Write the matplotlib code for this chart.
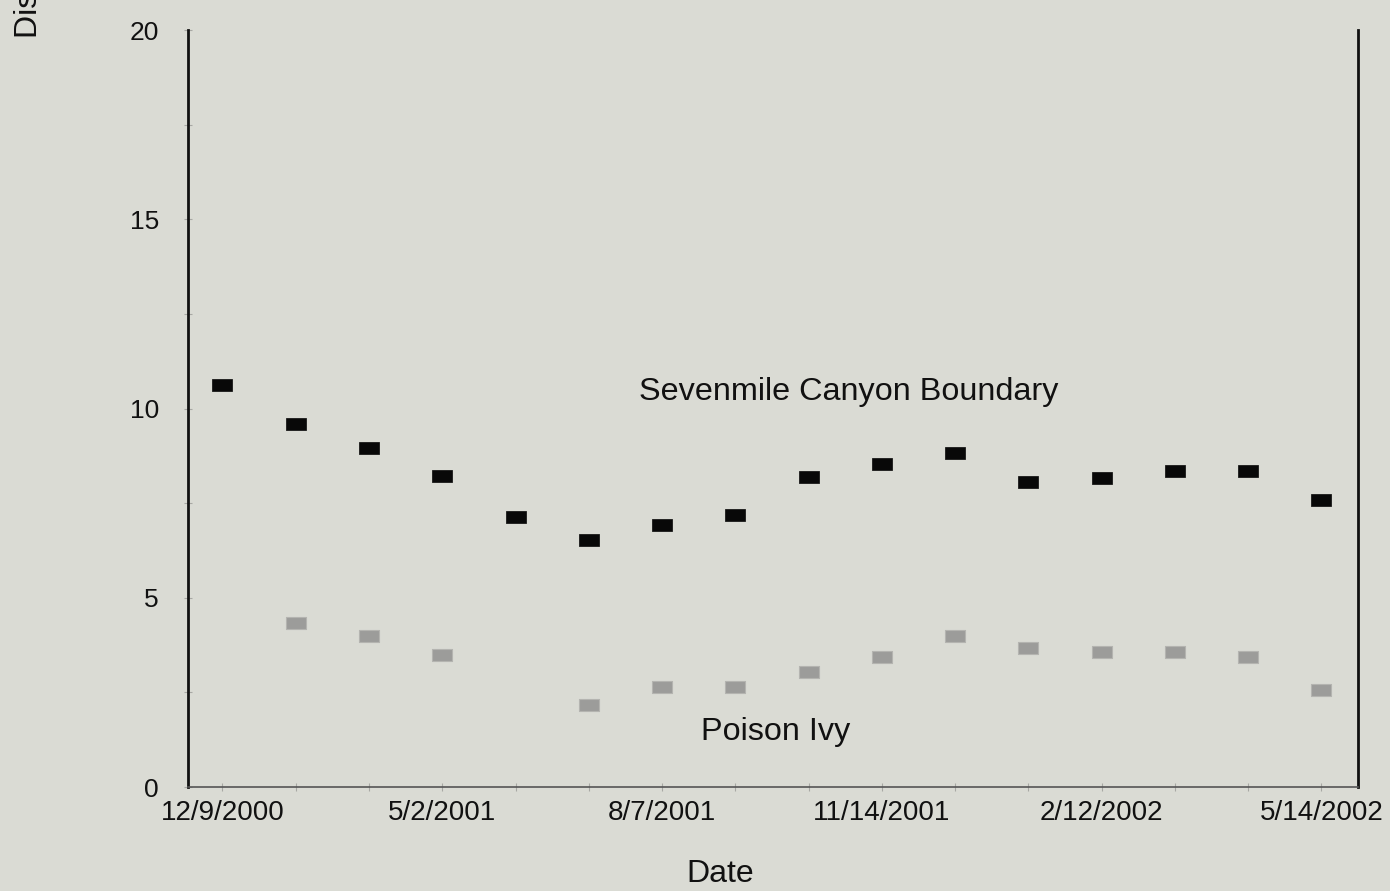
import numpy as np
import matplotlib.pyplot as plt
from matplotlib.ticker import MultipleLocator

plt.rcParams["font.family"] = ["Liberation Sans", "DejaVu Sans"]

# ---- data -------------------------------------------------------------
sevenmile = [10.62, 9.59, 8.97, 8.22, 7.13, 6.53, 6.92, 7.19,
             8.19, 8.53, 8.82, 8.06, 8.16, 8.35, 8.35, 7.58]
poison_ivy = [np.nan, 4.33, 3.99, 3.49, np.nan, 2.17, 2.64, 2.64,
              3.04, 3.43, 3.99, 3.67, 3.57, 3.57, 3.43, 2.56]
date_labels = ["12/9/2000", "5/2/2001", "8/7/2001",
               "11/14/2001", "2/12/2002", "5/14/2002"]

BG = "#dadbd4"
INK = "#111111"
x = np.arange(len(sevenmile))
rect = [(-1, -0.66), (1, -0.66), (1, 0.66), (-1, 0.66), (-1, -0.66)]

fig = plt.figure(figsize=(13.9, 8.91), dpi=100, facecolor=BG)
ax = fig.add_axes([0.1353, 0.1167, 0.977 - 0.1353, 0.9663 - 0.1167])
ax.set_facecolor(BG)

ax.plot(x, sevenmile, ls="none", marker=rect, ms=14, color="#080808",
        mec="#080808", mew=0.5)
ax.plot(x, poison_ivy, ls="none", marker=rect, ms=14, color="#9c9c9a",
        mec="#b4b4b0", mew=0.8)

ax.text(0.565, 0.522, "Sevenmile Canyon Boundary", transform=ax.transAxes,
        ha="center", va="center", fontsize=23.3, color=INK)
ax.text(0.502, 0.073, "Poison Ivy", transform=ax.transAxes,
        ha="center", va="center", fontsize=23.3, color=INK)

ax.set_xlim(-0.47, 15.5)
ax.set_ylim(0, 20)
ax.set_xticks(x)
ax.set_xticklabels([date_labels[i // 3] if i % 3 == 0 else "" for i in x])
ax.yaxis.set_major_locator(MultipleLocator(5))
ax.yaxis.set_minor_locator(MultipleLocator(2.5))

ax.tick_params(axis="both", which="both", direction="inout", length=6,
               width=0.8, color="#a8a8a4", labelcolor=INK)
ax.tick_params(axis="x", labelsize=20, pad=6)
ax.tick_params(axis="y", labelsize=19, pad=18)

fig.text(720 / 1390, 1 - 874 / 891, "Date", ha="center", va="center",
         fontsize=23, color=INK)
fig.text(29 / 1390, 1 - 38 / 891, "Distance (m)", rotation=90,
         ha="center", va="bottom", fontsize=23, color=INK)

ax.spines["top"].set_visible(False)
for side in ("left", "right"):
    ax.spines[side].set_linewidth(2)
    ax.spines[side].set_color(INK)
ax.spines["bottom"].set_linewidth(1.2)
ax.spines["bottom"].set_color("#555555")

fig.savefig("out.png", dpi=100, facecolor=BG)
